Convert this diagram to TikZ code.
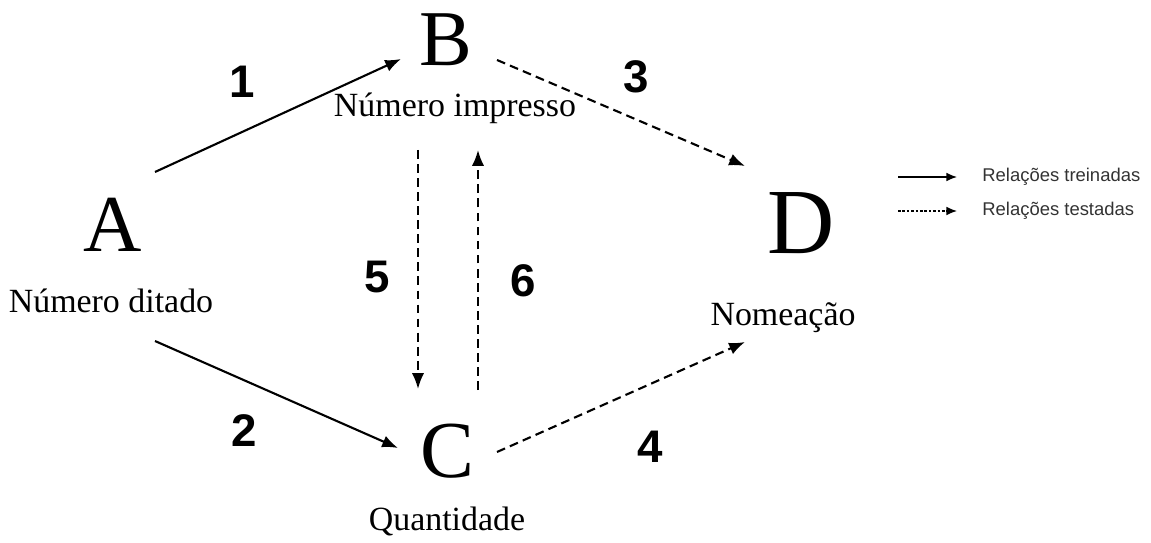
\documentclass[tikz,border=0pt]{standalone}
\usepackage{fontspec}
\setmainfont{Liberation Serif}
\newfontfamily\sansf{Liberation Sans}
\usetikzlibrary{arrows.meta}
\begin{document}
\begin{tikzpicture}[x=0.02cm,y=-0.02cm,
  big/.style={inner sep=0pt,font=\fontsize{46}{46}\selectfont},
  lbl/.style={inner sep=0pt,font=\fontsize{19.3}{20}\selectfont},
  num/.style={inner sep=0pt,font=\sansf\bfseries\fontsize{26}{26}\selectfont},
  leg/.style={inner sep=0pt,anchor=west,font=\sansf\fontsize{10.5}{11}\selectfont,text=black!80},
  rel/.style={line width=1.2pt,-{Latex[length=9pt,width=7pt]}},
  tst/.style={rel,dash pattern=on 5pt off 3pt},
  legsolid/.style={line width=0.9pt,-{Latex[length=6pt,width=5pt]}},
  legdash/.style={legsolid,dash pattern=on 1.5pt off 1pt}]
\useasboundingbox (0,0) rectangle (1151,543);
% letters
\node[big] (A) at (113,225) {A};
\node[big,font=\fontsize{45}{45}\selectfont] (B) at (446,40) {B};
\node[big] (C) at (447,451) {C};
\node[big,font=\fontsize{53}{53}\selectfont] (D) at (801,223) {D};
\node[lbl] (la) at (111,301) {Número ditado};
\node[lbl] (lb) at (455,108) {Número impresso};
\node[lbl] (lc) at (447,521) {Quantidade};
\node[lbl] (ld) at (783,318) {Nomeação};
% numbers
\node[num] (n1) at (242,82) {1};
\node[num] (n2) at (244,431) {2};
\node[num] (n3) at (636,77) {3};
\node[num] (n4) at (650,447) {4};
\node[num] (n5) at (377,277) {5};
\node[num] (n6) at (523,281) {6};
% arrow endpoints
\coordinate (a1s) at (155,172);
\coordinate (a1e) at (401,59);
\coordinate (a2s) at (155,341);
\coordinate (a2e) at (398,448);
\coordinate (a3s) at (497,60);
\coordinate (a3e) at (745,166);
\coordinate (a4s) at (497,452);
\coordinate (a4e) at (745,342);
\coordinate (a5s) at (418,150);
\coordinate (a5e) at (418,389);
\coordinate (a6s) at (478,390);
\coordinate (a6e) at (478,150);
\draw[rel] (a1s) -- (a1e);
\draw[rel] (a2s) -- (a2e);
\draw[tst] (a3s) -- (a3e);
\draw[tst] (a4s) -- (a4e);
\draw[tst] (a5s) -- (a5e);
\draw[tst] (a6s) -- (a6e);
% legend
\coordinate (l1s) at (898,177);
\coordinate (l1e) at (957,177);
\coordinate (l2s) at (898,211);
\coordinate (l2e) at (957,211);
\draw[legsolid] (l1s) -- (l1e);
\draw[legdash] (l2s) -- (l2e);
\node[leg] (t1) at (982,177) {Relações treinadas};
\node[leg] (t2) at (982,211) {Relações testadas};
\end{tikzpicture}
\end{document}
